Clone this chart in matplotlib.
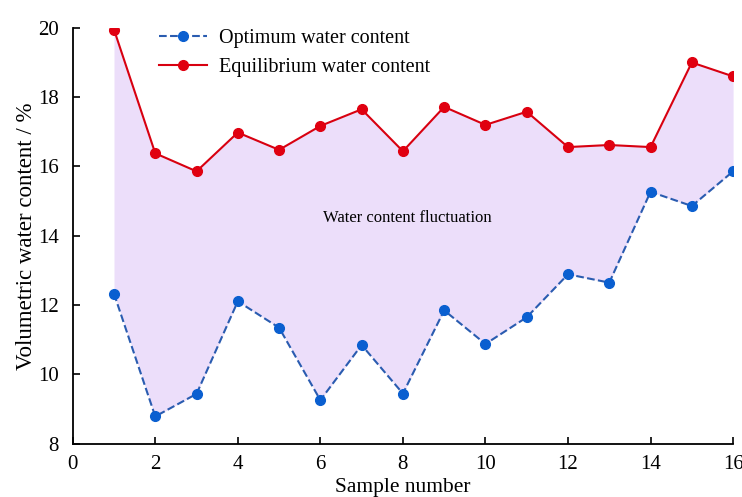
import matplotlib.pyplot as plt
import numpy as np

plt.rcParams['font.family'] = ['Liberation Serif', 'DejaVu Serif']

# sample numbers and the two measured series (%)
samples = np.arange(1, 17)
optimum = [12.33, 8.79, 9.44, 12.11, 11.35, 9.26, 10.85, 9.45,
           11.85, 10.88, 11.65, 12.89, 12.65, 15.27, 14.86, 15.86]
equilibrium = [19.95, 16.38, 15.86, 16.98, 16.48, 17.17, 17.65, 16.44,
               17.72, 17.2, 17.58, 16.56, 16.62, 16.56, 19.0, 18.6]
xticks = [0, 2, 4, 6, 8, 10, 12, 14, 16]
yticks = [8, 10, 12, 14, 16, 18, 20]

fig = plt.figure(figsize=(7.42, 4.97), dpi=100)
ax = fig.add_axes([0.098, 0.107, 0.89, 0.837])

ax.fill_between(samples, optimum, equilibrium, color='#ecdefa', lw=0)
ax.plot(samples, optimum, ls='--', color='#2a5cb0', lw=1.5, marker='o',
        ms=7, mfc='#0a5fd0', mec='#0a5fd0', label='Optimum water content')
ax.plot(samples, equilibrium, ls='-', color='#d80010', lw=1.5, marker='o',
        ms=7, mfc='#e00010', mec='#e00010', label='Equilibrium water content')

ax.text(8.1, 14.5, 'Water content fluctuation', fontsize=12,
        ha='center', va='center')

ax.set_xlim(0, 16)
ax.set_ylim(8, 20)
ax.set_xticks(xticks)
ax.set_yticks(yticks)
ax.tick_params(direction='in', length=5, width=1.2, labelsize=15)
ax.tick_params(axis='x', pad=8)
ax.tick_params(axis='y', pad=10)
for s in ['top', 'right']:
    ax.spines[s].set_visible(False)
for s in ['left', 'bottom']:
    ax.spines[s].set_linewidth(1.3)

ax.set_xlabel('Sample number', fontsize=15.5, labelpad=3)
ax.set_ylabel('Volumetric water content / %', fontsize=16.5, labelpad=1)

ax.legend(loc='upper left', bbox_to_anchor=(0.103, 1.04), frameon=False,
          fontsize=14.5, handlelength=2.4, handletextpad=0.6,
          labelspacing=0.45)

fig.savefig('out.png', dpi=100)
